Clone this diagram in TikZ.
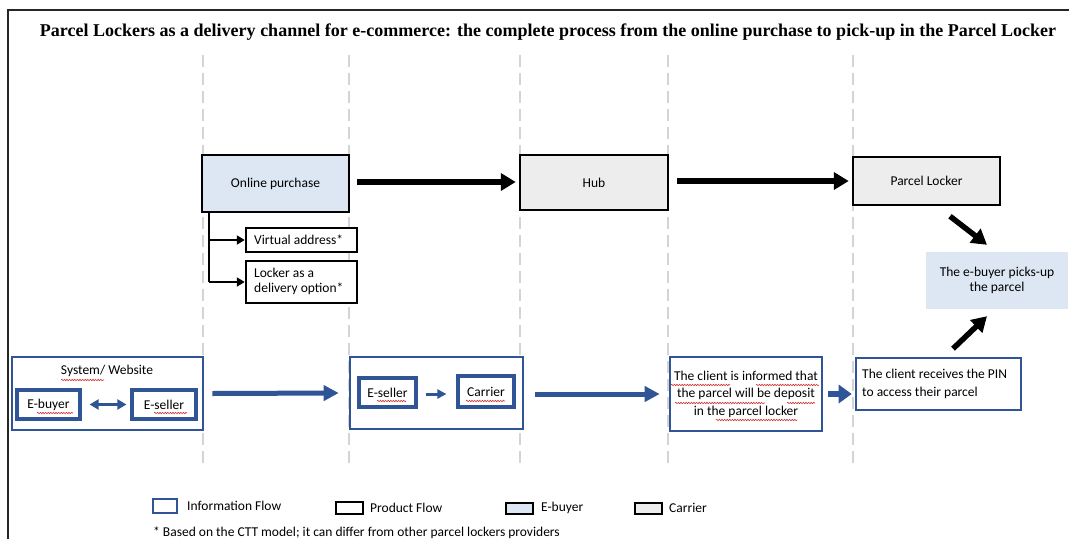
\documentclass[tikz,border=0pt]{standalone}
\usepackage{graphicx}
\usepackage{fontspec}
\setmainfont{Carlito}
\newfontfamily\titlefont{Liberation Serif}
\usetikzlibrary{arrows.meta,decorations.pathmorphing,calc}
\definecolor{infoblue}{HTML}{2F5597}
\definecolor{buyerfill}{HTML}{DDE7F3}
\definecolor{carrierfill}{HTML}{EDEDED}
\definecolor{dashgray}{HTML}{D4D4D4}
\definecolor{squigred}{HTML}{D03030}
\begin{document}
\begin{tikzpicture}[x=1pt,y=-1pt,
  every node/.style={font=\fontsize{13.5}{15.5}\selectfont, inner sep=0pt},
  prodbox/.style={draw=black, line width=2.5pt, rectangle},
  infobox/.style={draw=infoblue, line width=2.6pt, rectangle},
  innerbox/.style={draw=infoblue, line width=3.2pt, rectangle, fill=white},
  guide/.style={draw=dashgray, line width=2pt, dash pattern=on 12pt off 6pt},
  blackarrow/.style={line width=5.5pt, -{Triangle[length=15pt,width=17pt]}},
  bluearrow/.style={draw=infoblue, line width=5pt, -{Triangle[length=15pt,width=15pt]}},
  shortblue/.style={draw=infoblue, line width=6.5pt, -{Triangle[length=13pt,width=18pt]}},
  smallblue/.style={draw=infoblue, line width=3pt, -{Triangle[length=9pt,width=9pt]}},
  smallboth/.style={draw=infoblue, line width=3pt, {Triangle[length=9pt,width=10pt]}-{Triangle[length=9pt,width=10pt]}},
  bracketline/.style={line width=2.5pt},
  bracketarrow/.style={line width=2.5pt, -{Triangle[length=8pt,width=9pt]}},
  squig/.style={draw=squigred, line width=0.6pt, decorate, decoration={snake, amplitude=0.7pt, segment length=2.6pt}},
  lefttext/.style={anchor=west, align=left},
  legendtext/.style={anchor=west}
]
\useasboundingbox (0,0) rectangle (1069,539);
\fill[white] (0,0) rectangle (1069,539);

% frame
\draw[line width=1.3pt, draw=black!85] (8,539) -- (8,10) -- (1069,10);

% title
\node (title) at (548,32) {\resizebox{1016pt}{!}{\titlefont\bfseries\fontsize{16}{16}\selectfont Parcel Lockers as a delivery channel for e-commerce: the complete process from the online purchase to pick-up in the Parcel Locker}};

% dashed guides
\foreach \gx in {203,349,520,668,853}
  \draw[guide] (\gx,55) -- (\gx,465);

% top row (product flow)
\node[prodbox, fill=buyerfill, minimum width=147pt, minimum height=57pt] (op) at (275.5,183.5) {Online purchase};
\node[prodbox, fill=carrierfill, minimum width=148pt, minimum height=55pt] (hub) at (594,182.5) {Hub};
\node[prodbox, fill=carrierfill, minimum width=147pt, minimum height=48pt] (pl) at (926.5,181) {Parcel Locker};
\node[fill=buyerfill, minimum width=142pt, minimum height=57pt, align=center, font=\fontsize{13.5}{15}\selectfont] (pick) at (997,280.5) {The e-buyer picks-up\\the parcel};

\node[prodbox, fill=white, minimum width=111pt, minimum height=24pt] (va) at (301.5,240) {};
\node[lefttext] (vatext) at (254,240) {Virtual address*};
\node[prodbox, fill=white, minimum width=111pt, minimum height=42pt] (lo) at (301.5,282) {};
\node[lefttext, font=\fontsize{13.5}{15}\selectfont] (lotext) at (254,281) {Locker as a\\delivery option*};

\coordinate (brk) at ($(op.south west)+(8,0)$);
\draw[bracketline] (brk) -- (brk |- lo.west);
\draw[bracketarrow] (brk |- lo.west) -- (lo.west);
\draw[bracketarrow] (brk |- va.west) -- (va.west);

\draw[blackarrow] ($(op.east)+(7,-1.5)$) -- ($(hub.west)+(-3,-0.5)$);
\draw[blackarrow] ($(hub.east)+(8,-1.5)$) -- ($(pl.west)+(-3,0)$);
\draw[blackarrow] ($(pl.south)+(23.5,10)$) -- ($(pick.north)+(-10,-7)$);

% bottom row (information flow)
\node[infobox, fill=white, minimum width=191pt, minimum height=73pt] (sys) at (107.5,393.5) {};
\node (syslabel) at (107,371) {System/ Website};
\node[innerbox, minimum width=63pt, minimum height=29pt] (eb) at (48.5,404.5) {E-buyer};
\node[innerbox, minimum width=64pt, minimum height=29pt] (es1) at (164,404.5) {E-seller};
\draw[smallboth] ($(eb.east)+(8,0)$) -- ($(es1.west)+(-4,0)$);

\node[infobox, fill=white, minimum width=173pt, minimum height=72pt] (ec) at (436.5,393) {};
\node[innerbox, minimum width=57pt, minimum height=29pt] (ecs) at (387.5,392.5) {E-seller};
\node[innerbox, minimum width=56pt, minimum height=31pt] (car) at (486,391.5) {Carrier};
\draw[smallblue] ($(ecs.east)+(8,1.5)$) -- ($(car.west)+(-10,2.5)$);

\node[infobox, fill=white, minimum width=152pt, minimum height=74pt, align=center, font=\fontsize{13.5}{17.5}\selectfont] (inf) at (746,394) {The client is informed that\\the parcel will be deposit\\in the parcel locker};
\node[infobox, fill=white, minimum width=165pt, minimum height=52pt] (pin) at (938.5,384) {};
\node[lefttext, font=\fontsize{13.5}{18}\selectfont] (pintext) at (862,384) {The client receives the PIN\\to access their parcel};

\draw[blackarrow] ($(pin.north)+(14.5,-8)$) -- ($(pick.south)+(-10,7)$);
\draw[bluearrow] ($(sys.east)+(8,0)$) -- ($(ec.west)+(-10,0)$);
\draw[bluearrow] ($(ec.east)+(11,1)$) -- ($(inf.west)+(-9,0)$);
\draw[shortblue] ($(inf.east)+(5,0)$) -- ($(pin.west)+(-3,10)$);

% spell-check squiggles
\draw[squig] (61,380) -- (104,380);
\draw[squig] (37,413) -- (73,413);
\draw[squig] (154,413) -- (187,413);
\draw[squig] (377,401) -- (406,401);
\draw[squig] (466,401) -- (505,401);
\draw[squig] (671,385) -- (730,385);
\draw[squig] (756,385) -- (819,385);
\draw[squig] (675,403) -- (765,403);
\draw[squig] (787,403) -- (815,403);
\draw[squig] (716,420) -- (797,420);

% legend
\node[draw=infoblue, line width=2.5pt, minimum width=24pt, minimum height=14pt] (lginfo) at (165,506) {};
\node[legendtext] (lginfot) at (187,506) {Information Flow};
\node[prodbox, minimum width=27pt, minimum height=12pt] (lgprod) at (349.5,508) {};
\node[legendtext] (lgprodt) at (370,507.5) {Product Flow};
\node[prodbox, fill=buyerfill, minimum width=27pt, minimum height=11pt] (lgbuy) at (519.5,508.5) {};
\node[legendtext] (lgbuyt) at (541,508) {E-buyer};
\node[prodbox, fill=carrierfill, minimum width=27pt, minimum height=11pt] (lgcar) at (648.5,508.5) {};
\node[legendtext] (lgcart) at (669,507.5) {Carrier};
\node[legendtext] (foot) at (153,533) {* Based on the CTT model; it can differ from other parcel lockers providers};
\end{tikzpicture}
\end{document}
